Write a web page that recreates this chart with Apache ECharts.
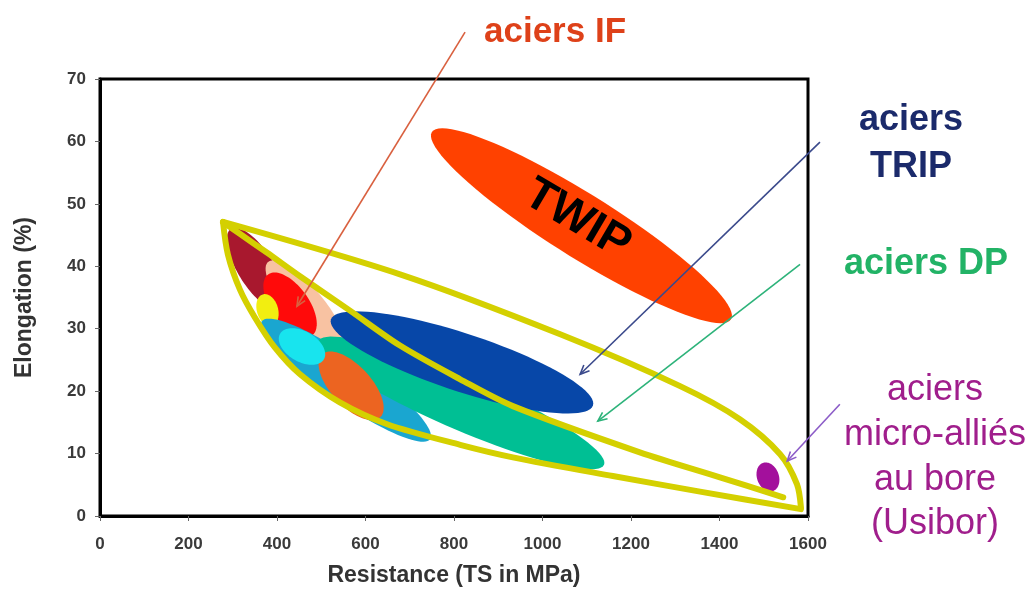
<!DOCTYPE html>
<html><head><meta charset="utf-8">
<script src="https://cdn.jsdelivr.net/npm/echarts@6/dist/echarts.min.js"></script>
<style>html,body{margin:0;padding:0;background:#fff}#c{width:1032px;height:592px}</style>
</head><body><div id="c"></div>
<script>
// ---- axes ----
const xTicks = [0, 200, 400, 600, 800, 1000, 1200, 1400, 1600];
const yTicks = [0, 10, 20, 30, 40, 50, 60, 70];

// ---- steel families (ellipses: major-axis tips in TS / elongation, minor/major ratio) ----
const steelFamilies = ['dark red', 'peach', 'IF', 'yellow', 'light blue', 'DP', 'orange', 'cyan', 'TRIP', 'TWIP', 'Usibor'];
const tipA_TS = [296, 380, 380, 368, 366, 493, 502, 407, 522, 750, 1498];
const tipA_El = [46.0, 40.7, 38.7, 35.5, 31.2, 28.0, 25.9, 29.2, 31.5, 61.5, 8.5];
const tipB_TS = [411, 547, 479, 389, 746, 1139, 633, 506, 1114, 1426, 1521];
const tipB_El = [33.1, 26.7, 28.9, 30.5, 12.3, 8.2, 15.8, 25.1, 17.7, 31.5, 4.0];
const widthRatio = [0.38, 0.32, 0.5, 0.65, 0.21, 0.17, 0.47, 0.6, 0.21, 0.18, 0.73];
const ellipseLabels = ['', '', '', '', '', '', '', '', '', 'TWIP', ''];

// ---- yellow envelope ----
const upperTS = [278, 678, 1040, 1311, 1446, 1537, 1575, 1584];
const upperEl = [47.1, 38.7, 29.1, 20.8, 15.5, 9.9, 5.1, 1.4];
const lowerTS = [278, 289, 316, 350, 395, 452, 542, 649, 814, 933, 1159, 1356, 1584];
const lowerEl = [47.1, 41.9, 36.3, 31.8, 27.0, 22.7, 18.2, 14.7, 11.4, 9.4, 6.4, 3.9, 1.1];
const innerTS = [278, 316, 377, 452, 565, 678, 814, 933, 1220, 1401, 1544];
const innerEl = [47.1, 45.2, 42.2, 38.4, 32.9, 27.3, 21.9, 17.6, 10.2, 6.2, 3.0];

// ---- annotation arrows ----
const arrowNames = ['aciers IF', 'aciers TRIP', 'aciers DP', 'Usibor'];
const arrowFromTS = [825, 1627, 1582, 1672];
const arrowFromEl = [77.5, 59.9, 40.3, 17.9];
const arrowToTS = [445, 1085, 1125, 1553];
const arrowToEl = [33.6, 22.7, 15.2, 8.8];

// ---- styles ----
const ellipseFills = ['#A8182E', '#F8C2A2', '#FF0A0A', '#F2EE10', '#1AA6D0', '#00BF94', '#EC6421', '#18E4EE', '#0747A8', '#FF4100', '#A3109C'];
const arrowColors = ['#D9603F', '#3B4A8C', '#2DB37A', '#8C5CC8'];
const envelopeColor = '#D4D000';
const FONT = '"Liberation Sans", Arial, sans-serif';

const ellipseData = steelFamilies.map((n, i) => [tipA_TS[i], tipA_El[i], tipB_TS[i], tipB_El[i], widthRatio[i]]);
const arrowData = arrowNames.map((n, i) => [arrowFromTS[i], arrowFromEl[i], arrowToTS[i], arrowToEl[i]]);
const pairs = (xs, ys) => xs.map((x, i) => [x, ys[i]]);

function ellipseItem(params, api) {
  const p1 = api.coord([api.value(0), api.value(1)]);
  const p2 = api.coord([api.value(2), api.value(3)]);
  const ratio = api.value(4);
  const cx = (p1[0] + p2[0]) / 2, cy = (p1[1] + p2[1]) / 2;
  const dx = p2[0] - p1[0], dy = p2[1] - p1[1];
  const a = Math.hypot(dx, dy) / 2, b = a * ratio;
  const ang = Math.atan2(dy, dx);
  const pts = [];
  for (let k = 0; k < 90; k++) {
    const t = k / 90 * 2 * Math.PI;
    const ex = a * Math.cos(t), ey = b * Math.sin(t);
    pts.push([cx + ex * Math.cos(ang) - ey * Math.sin(ang), cy + ex * Math.sin(ang) + ey * Math.cos(ang)]);
  }
  const children = [{ type: 'polygon', shape: { points: pts }, style: { fill: ellipseFills[params.dataIndex] } }];
  const lab = ellipseLabels[params.dataIndex];
  if (lab) {
    children.push({
      type: 'text', x: cx - 4, y: cy - 6, rotation: -ang * 0.95,
      style: { text: lab, fill: '#000', font: 'bold 46px ' + FONT, align: 'center', verticalAlign: 'middle' }
    });
  }
  return { type: 'group', children };
}

function arrowItem(params, api) {
  const p1 = api.coord([api.value(0), api.value(1)]);
  const p2 = api.coord([api.value(2), api.value(3)]);
  const ang = Math.atan2(p2[1] - p1[1], p2[0] - p1[0]);
  const L = 10, s = 0.42;
  const h1 = [p2[0] - L * Math.cos(ang - s), p2[1] - L * Math.sin(ang - s)];
  const h2 = [p2[0] - L * Math.cos(ang + s), p2[1] - L * Math.sin(ang + s)];
  const c = arrowColors[params.dataIndex];
  return {
    type: 'group', children: [
      { type: 'line', shape: { x1: p1[0], y1: p1[1], x2: p2[0], y2: p2[1] }, style: { stroke: c, lineWidth: 1.6 } },
      { type: 'polyline', shape: { points: [h1, p2, h2] }, style: { stroke: c, lineWidth: 1.6, fill: null } }
    ]
  };
}

const envStyle = { color: envelopeColor, width: 6, cap: 'round', join: 'round' };
const chart = echarts.init(document.getElementById('c'), null, { renderer: 'canvas' });
chart.setOption({
  animation: false,
  backgroundColor: '#fff',
  grid: { left: 100, right: 224, top: 79, bottom: 75, show: true, borderColor: '#000', borderWidth: 3, backgroundColor: 'transparent' },
  xAxis: {
    type: 'value', min: xTicks[0], max: xTicks[xTicks.length - 1], interval: xTicks[1] - xTicks[0],
    name: 'Resistance (TS in MPa)', nameLocation: 'middle', nameGap: 48,
    nameTextStyle: { fontFamily: FONT, fontWeight: 'bold', fontSize: 23, color: '#333' },
    axisLine: { show: true, lineStyle: { color: '#000', width: 3 } },
    axisTick: { show: true, length: 5, lineStyle: { color: '#666' } },
    axisLabel: { margin: 20, fontFamily: FONT, fontWeight: 'bold', fontSize: 17, color: '#3a3a3a', formatter: v => String(v) },
    splitLine: { show: false }
  },
  yAxis: {
    type: 'value', min: yTicks[0], max: yTicks[yTicks.length - 1], interval: yTicks[1] - yTicks[0],
    name: 'Elongation (%)', nameLocation: 'middle', nameGap: 64,
    nameTextStyle: { fontFamily: FONT, fontWeight: 'bold', fontSize: 23, color: '#333' },
    axisLine: { show: true, lineStyle: { color: '#000', width: 3 } },
    axisTick: { show: true, length: 5, lineStyle: { color: '#666' } },
    axisLabel: { margin: 14, fontFamily: FONT, fontWeight: 'bold', fontSize: 17, color: '#3a3a3a', formatter: v => String(v) },
    splitLine: { show: false }
  },
  graphic: [
    { type: 'text', x: 555, y: 32, style: { text: 'aciers IF', fill: '#DE4119', font: 'bold 35px ' + FONT, align: 'center', verticalAlign: 'middle' } },
    { type: 'text', x: 911, y: 120, style: { text: 'aciers', fill: '#1B2A6B', font: 'bold 36px ' + FONT, align: 'center', verticalAlign: 'middle' } },
    { type: 'text', x: 911, y: 167, style: { text: 'TRIP', fill: '#1B2A6B', font: 'bold 36px ' + FONT, align: 'center', verticalAlign: 'middle' } },
    { type: 'text', x: 926, y: 264, style: { text: 'aciers DP', fill: '#22B366', font: 'bold 36px ' + FONT, align: 'center', verticalAlign: 'middle' } },
    { type: 'text', x: 935, y: 390, style: { text: 'aciers', fill: '#A01E8C', font: '36px ' + FONT, align: 'center', verticalAlign: 'middle' } },
    { type: 'text', x: 935, y: 435, style: { text: 'micro-alliés', fill: '#A01E8C', font: '36px ' + FONT, align: 'center', verticalAlign: 'middle' } },
    { type: 'text', x: 935, y: 480, style: { text: 'au bore', fill: '#A01E8C', font: '36px ' + FONT, align: 'center', verticalAlign: 'middle' } },
    { type: 'text', x: 935, y: 524, style: { text: '(Usibor)', fill: '#A01E8C', font: '36px ' + FONT, align: 'center', verticalAlign: 'middle' } }
  ],
  series: [
    { type: 'custom', name: 'steels', renderItem: ellipseItem, data: ellipseData, z: 2, clip: false },
    { type: 'line', name: 'envelope-upper', data: pairs(upperTS, upperEl), smooth: 0.3, showSymbol: false, symbol: 'none', lineStyle: envStyle, z: 3 },
    { type: 'line', name: 'envelope-lower', data: pairs(lowerTS, lowerEl), smooth: 0.3, showSymbol: false, symbol: 'none', lineStyle: envStyle, z: 3 },
    { type: 'line', name: 'envelope-inner', data: pairs(innerTS, innerEl), smooth: 0.3, showSymbol: false, symbol: 'none', lineStyle: envStyle, z: 3 },
    { type: 'custom', name: 'arrows', renderItem: arrowItem, data: arrowData, z: 4, clip: false }
  ]
});
</script>
</body></html>
